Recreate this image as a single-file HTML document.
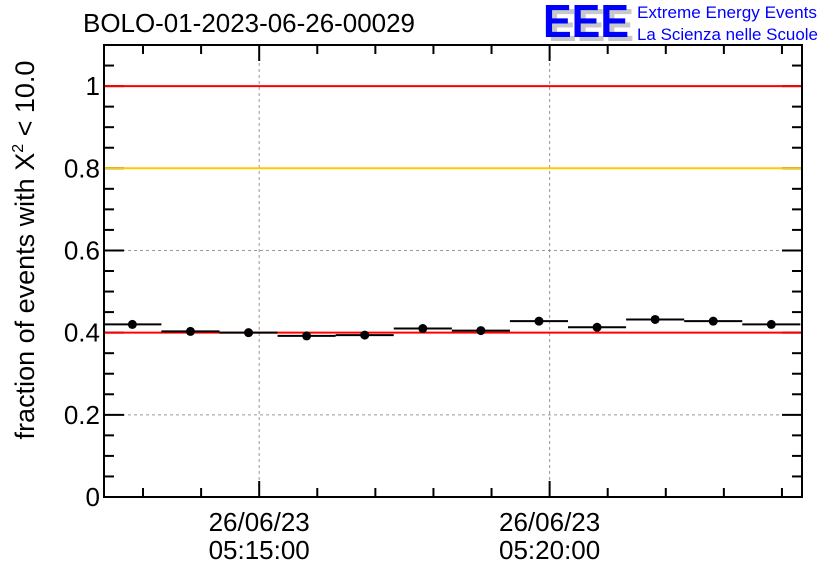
<!DOCTYPE html>
<html><head><meta charset="utf-8"><style>
body{margin:0;background:#fff;width:836px;height:572px;overflow:hidden}
svg{display:block;font-family:"Liberation Sans",sans-serif}
</style></head><body>
<svg id="c" width="836" height="572">
<text x="83" y="32" font-size="26" textLength="332" lengthAdjust="spacingAndGlyphs">BOLO-01-2023-06-26-00029</text>
<g>
<text x="548" y="41" font-size="46" font-weight="bold" fill="#c8c8c8" textLength="86" lengthAdjust="spacingAndGlyphs">EEE</text>
<text x="543" y="37" font-size="46" font-weight="bold" fill="#0000ff" textLength="86" lengthAdjust="spacingAndGlyphs">EEE</text>
<text x="637" y="18" font-size="17" fill="#0000ff" textLength="180" lengthAdjust="spacingAndGlyphs">Extreme Energy Events</text>
<text x="637" y="40" font-size="17" fill="#0000ff" textLength="181" lengthAdjust="spacingAndGlyphs">La Scienza nelle Scuole</text>
</g>
<text transform="translate(34,250) rotate(-90)" text-anchor="middle" font-size="27">fraction of events with Χ<tspan dy="-11" font-size="16">2</tspan><tspan dy="11"> &lt; 10.0</tspan></text>
<g id="plot"></g>
</svg>
<script>
const yTicks=[0,0.2,0.4,0.6,0.8,1];
const yTickLabels=["0","0.2","0.4","0.6","0.8","1"];
const xTicks=[0,300];
const xTickLabels=[["26/06/23","05:15:00"],["26/06/23","05:20:00"]];
const binCenters=[-131,-71,-11,49,109,169,229,289,349,409,469,529];
const values=[0.420,0.403,0.400,0.392,0.394,0.410,0.405,0.428,0.413,0.432,0.428,0.420];
const refLines=[1.0,0.8,0.4];
const refColors=["#ff0000","#ffc800","#ff0000"];
const X0=104,X1=802,Y0=497,Y1=45;
const xmin=-160.3,xmax=560.7,ymin=0,ymax=1.1;
const sx=v=>X0+(v-xmin)/(xmax-xmin)*(X1-X0);
const sy=v=>Y0-(v-ymin)/(ymax-ymin)*(Y0-Y1);
const NS="http://www.w3.org/2000/svg",g=document.getElementById('plot');
function mk(t,a,p){const e=document.createElementNS(NS,t);for(const k in a)e.setAttribute(k,a[k]);(p||g).appendChild(e);return e;}
// grid
yTicks.forEach(v=>{if(v>0&&v<1){const e=mk('line',{x1:X0,x2:X1,y1:sy(v),y2:sy(v),stroke:'#999','stroke-dasharray':'3,3'});

}});
xTicks.forEach(v=>{const e=mk('line',{x1:sx(v),x2:sx(v),y1:Y1,y2:Y0,stroke:'#999','stroke-dasharray':'3,3'});

});
// axes frame
const f=mk('rect',{x:X0,y:Y1,width:X1-X0,height:Y0-Y1,fill:'none',stroke:'#000','stroke-width':2});


// y ticks
for(let k=0;k<=22;k++){const v=k*0.05,y=sy(v),maj=k%4==0,L=maj?20:10;
mk('line',{x1:X0,x2:X0+L,y1:y,y2:y,stroke:'#000','stroke-width':2});
mk('line',{x1:X1,x2:X1-L,y1:y,y2:y,stroke:'#000','stroke-width':2});}
yTicks.forEach((v,i)=>{const t=mk('text',{x:X0-4,y:sy(v)+9,'text-anchor':'end','font-size':26});t.textContent=yTickLabels[i];

});
// x ticks
for(let s=-120;s<=540;s+=60){const x=sx(s),maj=s%300==0,L=maj?16:9;
mk('line',{x1:x,x2:x,y1:Y0,y2:Y0-L,stroke:'#000','stroke-width':2});
mk('line',{x1:x,x2:x,y1:Y1,y2:Y1+L,stroke:'#000','stroke-width':2});}
xTicks.forEach((v,i)=>{xTickLabels[i].forEach((s,j)=>{const t=mk('text',{x:sx(v),y:531+j*28,'text-anchor':'middle','font-size':26});t.textContent=s;

});});
// ref lines
refLines.forEach((v,i)=>{const e=mk('line',{x1:X0+1,x2:X1-1,y1:sy(v),y2:sy(v),stroke:refColors[i],'stroke-width':2});

});
// data
binCenters.forEach((c,i)=>{const y=sy(values[i]);
const b=mk('line',{x1:sx(c-30),x2:sx(c+30),y1:y,y2:y,stroke:'#000','stroke-width':2});


const p=mk('circle',{cx:sx(c),cy:y,r:4.5,fill:'#000'});

});
</script>
</body></html>
